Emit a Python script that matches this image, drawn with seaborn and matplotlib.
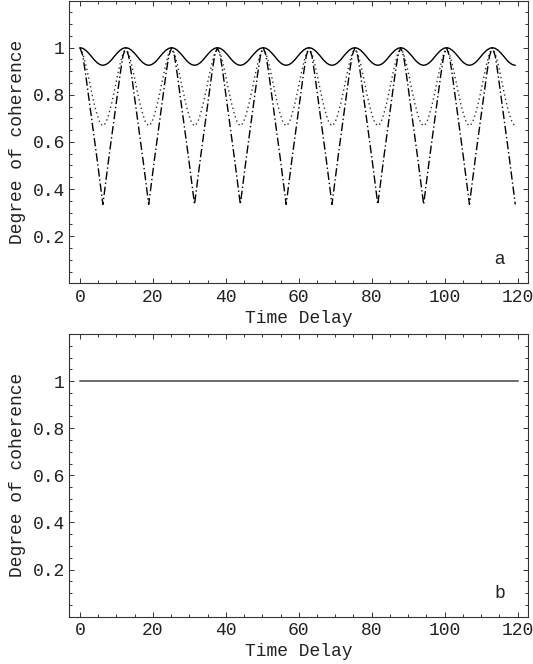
import numpy as np
import pandas as pd
import matplotlib
matplotlib.use("Agg")
import matplotlib.pyplot as plt
import seaborn as sns
from matplotlib.ticker import MultipleLocator, FixedLocator, FixedFormatter

# ---------------- data ----------------
# sampling grid of the curves in panel a (0 ... ~119.4)
time_delay = np.round(np.arange(153) * 0.7854, 3)

coherence_solid = [
    1.0, 0.997, 0.989, 0.977, 0.963, 0.948, 0.936, 0.928, 0.925, 0.928, 0.936, 0.948, 0.963, 0.977, 0.989, 0.997,
    1.0, 0.997, 0.989, 0.977, 0.963, 0.948, 0.936, 0.928, 0.925, 0.928, 0.936, 0.948, 0.963, 0.977, 0.989, 0.997,
    1.0, 0.997, 0.989, 0.977, 0.963, 0.948, 0.936, 0.928, 0.925, 0.928, 0.936, 0.948, 0.963, 0.977, 0.989, 0.997,
    1.0, 0.997, 0.989, 0.977, 0.963, 0.948, 0.936, 0.928, 0.925, 0.928, 0.936, 0.948, 0.963, 0.977, 0.989, 0.997,
    1.0, 0.997, 0.989, 0.977, 0.963, 0.948, 0.936, 0.928, 0.925, 0.928, 0.936, 0.948, 0.963, 0.977, 0.989, 0.997,
    1.0, 0.997, 0.989, 0.977, 0.963, 0.948, 0.936, 0.928, 0.925, 0.928, 0.936, 0.948, 0.963, 0.977, 0.989, 0.997,
    1.0, 0.997, 0.989, 0.977, 0.963, 0.948, 0.936, 0.928, 0.925, 0.928, 0.936, 0.948, 0.963, 0.977, 0.989, 0.997,
    1.0, 0.997, 0.989, 0.977, 0.963, 0.948, 0.936, 0.928, 0.925, 0.928, 0.936, 0.948, 0.963, 0.977, 0.989, 0.997,
    1.0, 0.997, 0.989, 0.977, 0.963, 0.948, 0.936, 0.928, 0.925, 0.928, 0.936, 0.948, 0.963, 0.977, 0.989, 0.997,
    1.0, 0.997, 0.989, 0.977, 0.963, 0.948, 0.936, 0.928, 0.925,
]

coherence_dotted = [
    1.0, 0.975, 0.93, 0.875, 0.815, 0.76, 0.715, 0.68, 0.668, 0.68, 0.715, 0.76, 0.815, 0.875, 0.93, 0.975,
    1.0, 0.975, 0.93, 0.875, 0.815, 0.76, 0.715, 0.68, 0.668, 0.68, 0.715, 0.76, 0.815, 0.875, 0.93, 0.975,
    1.0, 0.975, 0.93, 0.875, 0.815, 0.76, 0.715, 0.68, 0.668, 0.68, 0.715, 0.76, 0.815, 0.875, 0.93, 0.975,
    1.0, 0.975, 0.93, 0.875, 0.815, 0.76, 0.715, 0.68, 0.668, 0.68, 0.715, 0.76, 0.815, 0.875, 0.93, 0.975,
    1.0, 0.975, 0.93, 0.875, 0.815, 0.76, 0.715, 0.68, 0.668, 0.68, 0.715, 0.76, 0.815, 0.875, 0.93, 0.975,
    1.0, 0.975, 0.93, 0.875, 0.815, 0.76, 0.715, 0.68, 0.668, 0.68, 0.715, 0.76, 0.815, 0.875, 0.93, 0.975,
    1.0, 0.975, 0.93, 0.875, 0.815, 0.76, 0.715, 0.68, 0.668, 0.68, 0.715, 0.76, 0.815, 0.875, 0.93, 0.975,
    1.0, 0.975, 0.93, 0.875, 0.815, 0.76, 0.715, 0.68, 0.668, 0.68, 0.715, 0.76, 0.815, 0.875, 0.93, 0.975,
    1.0, 0.975, 0.93, 0.875, 0.815, 0.76, 0.715, 0.68, 0.668, 0.68, 0.715, 0.76, 0.815, 0.875, 0.93, 0.975,
    1.0, 0.975, 0.93, 0.875, 0.815, 0.76, 0.715, 0.68, 0.668,
]

coherence_dashdot = [
    1.0, 0.965, 0.885, 0.795, 0.705, 0.615, 0.525, 0.43, 0.335, 0.43, 0.525, 0.615, 0.705, 0.795, 0.885, 0.965,
    1.0, 0.965, 0.885, 0.795, 0.705, 0.615, 0.525, 0.43, 0.335, 0.43, 0.525, 0.615, 0.705, 0.795, 0.885, 0.965,
    1.0, 0.965, 0.885, 0.795, 0.705, 0.615, 0.525, 0.43, 0.335, 0.43, 0.525, 0.615, 0.705, 0.795, 0.885, 0.965,
    1.0, 0.965, 0.885, 0.795, 0.705, 0.615, 0.525, 0.43, 0.335, 0.43, 0.525, 0.615, 0.705, 0.795, 0.885, 0.965,
    1.0, 0.965, 0.885, 0.795, 0.705, 0.615, 0.525, 0.43, 0.335, 0.43, 0.525, 0.615, 0.705, 0.795, 0.885, 0.965,
    1.0, 0.965, 0.885, 0.795, 0.705, 0.615, 0.525, 0.43, 0.335, 0.43, 0.525, 0.615, 0.705, 0.795, 0.885, 0.965,
    1.0, 0.965, 0.885, 0.795, 0.705, 0.615, 0.525, 0.43, 0.335, 0.43, 0.525, 0.615, 0.705, 0.795, 0.885, 0.965,
    1.0, 0.965, 0.885, 0.795, 0.705, 0.615, 0.525, 0.43, 0.335, 0.43, 0.525, 0.615, 0.705, 0.795, 0.885, 0.965,
    1.0, 0.965, 0.885, 0.795, 0.705, 0.615, 0.525, 0.43, 0.335, 0.43, 0.525, 0.615, 0.705, 0.795, 0.885, 0.965,
    1.0, 0.965, 0.885, 0.795, 0.705, 0.615, 0.525, 0.43, 0.335,
]

# panel b: constant coherence
time_delay_b = [0, 120]
coherence_b = [1.0, 1.0]

x_ticks = [0, 20, 40, 60, 80, 100, 120]
x_tick_labels = ["0", "20", "40", "60", "80", "100", "120"]
y_ticks = [0.2, 0.4, 0.6, 0.8, 1.0]
y_tick_labels = ["0.2", "0.4", "0.6", "0.8", "1"]
x_label = "Time Delay"
y_label = "Degree of coherence"
panel_labels = ["a", "b"]

# ---------------- styling ----------------
sns.set_style("ticks")
plt.rcParams["font.family"] = ["Liberation Mono", "DejaVu Sans Mono"]
TXT = "#222222"
MONO = "Liberation Mono"
FS = 13

fig = plt.figure(figsize=(5.33, 6.64), dpi=100)
ax_a = fig.add_axes([0.1295, 0.5733, 0.862, 0.4259])
ax_b = fig.add_axes([0.1295, 0.0712, 0.862, 0.4258])

df_a = pd.DataFrame({
    "t": time_delay,
    "solid": coherence_solid,
    "dotted": coherence_dotted,
    "dashdot": coherence_dashdot,
})

sns.lineplot(data=df_a, x="t", y="solid", ax=ax_a, color="black",
             linewidth=1.0, estimator=None, sort=False)
sns.lineplot(data=df_a, x="t", y="dotted", ax=ax_a, color="#333333",
             linewidth=1.0, linestyle=(0, (1.0, 2.2)), estimator=None, sort=False)
sns.lineplot(data=df_a, x="t", y="dashdot", ax=ax_a, color="black",
             linewidth=1.0, linestyle=(0, (6.0, 2.0, 1.0, 2.0)), estimator=None, sort=False)

df_b = pd.DataFrame({"t": time_delay_b, "c": coherence_b})
sns.lineplot(data=df_b, x="t", y="c", ax=ax_b, color="#6a6a6a",
             linewidth=1.4, estimator=None, sort=False)

for ax, lab, fam in zip([ax_a, ax_b], panel_labels, ["Liberation Sans", MONO]):
    ax.set_xlim(-3, 123)
    ax.set_ylim(0, 1.2)
    ax.xaxis.set_major_locator(FixedLocator(x_ticks))
    ax.xaxis.set_major_formatter(FixedFormatter(x_tick_labels))
    ax.xaxis.set_minor_locator(MultipleLocator(5))
    ax.yaxis.set_major_locator(FixedLocator(y_ticks))
    ax.yaxis.set_major_formatter(FixedFormatter(y_tick_labels))
    ax.yaxis.set_minor_locator(MultipleLocator(0.05))
    ax.tick_params(which="both", direction="in", top=True, right=True,
                   color="#333333", width=0.7)
    ax.tick_params(which="major", length=3.3)
    ax.tick_params(which="minor", length=2.0)
    ax.tick_params(axis="x", which="major", pad=4, labelsize=FS, labelcolor=TXT)
    ax.tick_params(axis="y", which="major", pad=3, labelsize=FS, labelcolor=TXT)
    for lbl in ax.get_xticklabels() + ax.get_yticklabels():
        lbl.set_family(MONO)
    for sp in ax.spines.values():
        sp.set_visible(True)
        sp.set_color("#333333")
        sp.set_linewidth(0.8)
    ax.set_xlabel(x_label, fontsize=FS, family=MONO, color=TXT, labelpad=3)
    ax.set_ylabel(y_label, fontsize=FS, family=MONO, color=TXT, labelpad=5)
    ax.text(115, 0.1, lab, fontsize=FS, family=fam, color=TXT,
            ha="center", va="center")
    ax.set_facecolor("white")

fig.patch.set_facecolor("white")
fig.savefig("out.png", dpi=100)
